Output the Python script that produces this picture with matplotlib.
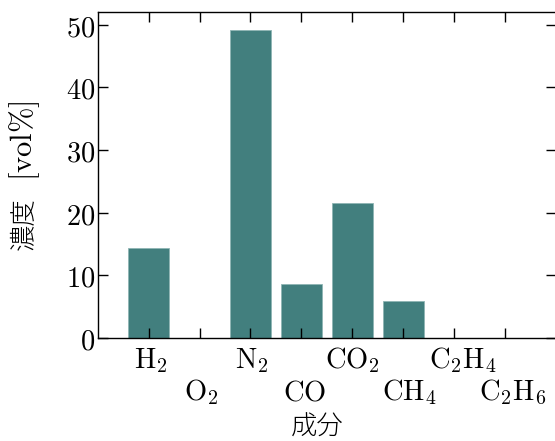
import matplotlib
matplotlib.use('Agg')
import matplotlib.pyplot as plt
from matplotlib.ticker import FuncFormatter
from matplotlib.transforms import ScaledTranslation

# 成分と濃度
components = [r'$\mathrm{H_2}$', r'$\mathrm{O_2}$', r'$\mathrm{N_2}$', r'$\mathrm{CO}$',
              r'$\mathrm{CO_2}$', r'$\mathrm{CH_4}$', r'$\mathrm{C_2H_4}$', r'$\mathrm{C_2H_6}$']
conc = [14.3, 0.0, 49.2, 8.6, 21.5, 5.9, 0.0, 0.0]

plt.rcParams['font.family'] = ['Noto Sans CJK JP', 'DejaVu Sans']
plt.rcParams['mathtext.fontset'] = 'cm'
plt.rcParams['font.size'] = 20.5

fig = plt.figure(figsize=(5.55, 4.41), dpi=100)
ax = fig.add_axes([0.176, 0.234, 0.826, 0.738])

x = range(len(conc))
ax.bar(x, conc, width=0.8, color='#427f7e', edgecolor='#8fb5b4', linewidth=0.6)

ax.set_xlim(-1, 8)
ax.set_ylim(0, 52)
ax.set_xticks(list(x))
# 交互に2段で表示
ax.set_xticklabels([c if i % 2 == 0 else '\n' + c for i, c in enumerate(components)])
ax.set_yticks([0, 10, 20, 30, 40, 50])
ax.yaxis.set_major_formatter(FuncFormatter(lambda v, p: '$%d$' % v))

ax.tick_params(direction='in', top=True, right=True, length=7, width=1, labelsize=20.5)
ax.tick_params(axis='x', pad=5)
ax.tick_params(axis='y', pad=2)
for s in ax.spines.values():
    s.set_linewidth(1)

label_dx = [2, 2, 1, 3, 0, 6, 9, 8]  # 元図のラベル位置のずれ (px)
for lbl, dx in zip(ax.get_xticklabels(), label_dx):
    lbl.set_linespacing(1.1)
    lbl.set_transform(lbl.get_transform() + ScaledTranslation(dx / 100, 0, fig.dpi_scale_trans))

ax.set_xlabel('成分', fontsize=19, fontweight='light', labelpad=4, x=0.48)
# 縦軸ラベル（和文と単位を別々に配置）
fig.text(0.043, 0.492, '濃度', rotation=90, fontsize=19, fontweight='light',
         ha='center', va='center')
fig.text(0.045, 0.68, r'$[\mathrm{vol\%}]$', rotation=90, fontsize=22,
         ha='center', va='center')

fig.savefig('out.png', dpi=100)
